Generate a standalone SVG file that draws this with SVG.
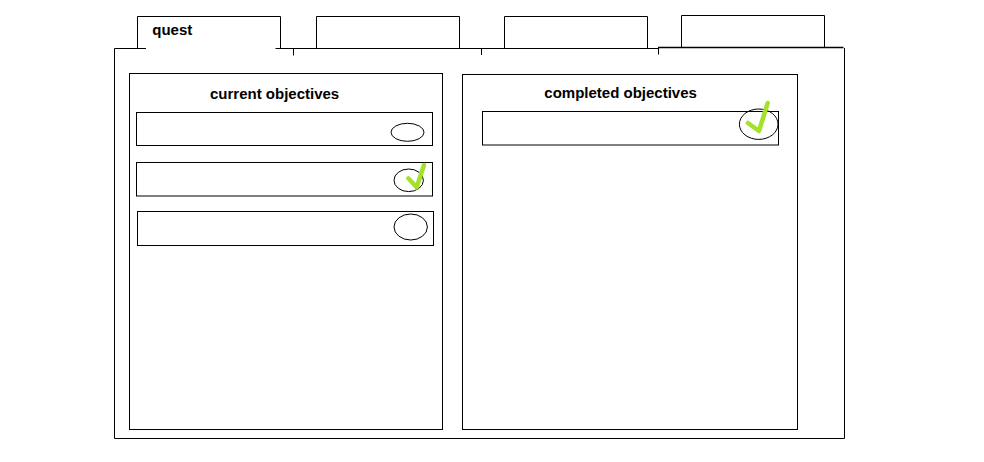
<svg xmlns="http://www.w3.org/2000/svg" width="984" height="462" viewBox="0 0 984 462">
<style>
.ln{fill:none;stroke:#000;stroke-width:1}
.box{fill:none;stroke:#000;stroke-width:1}
.oval{fill:none;stroke:#000;stroke-width:1}
.chk{fill:none;stroke:#a4e22a;stroke-width:4.5;stroke-linecap:round;stroke-linejoin:round}
.t{font-family:"Liberation Sans",Arial,sans-serif;font-weight:bold;font-size:15px;fill:#000}
</style>
<rect width="984" height="462" fill="#fff"/>
<g id="frame">
<path class="ln" d="M114.5,48.5 H146 M275.5,48.5 H658.5 M844.5,48 V438.5 H114.5 V48.5"/>
<path class="ln" d="M658,47.5 H843.5" style="stroke-width:1.6"/>
<path class="ln" d="M293.5,48.5 V55.5 M481.5,48.5 V55 M658.5,47.5 V54.5"/>
</g>
<g id="tab-quest">
<path class="ln" d="M137.5,48.5 V16.5 H280.5 V48.5"/>
<text class="t" x="152.3" y="35">quest</text>
</g>
<g id="tab-2"><path class="ln" d="M316.5,48.5 V16.5 H459.5 V48.5"/></g>
<g id="tab-3"><path class="ln" d="M504.5,48.5 V16.5 H647.5 V48.5"/></g>
<g id="tab-4"><path class="ln" d="M681.5,47.5 V15.5 H824.5 V47.5"/></g>
<g id="current-objectives">
<rect class="box" x="129.5" y="73.5" width="313" height="356"/>
<text class="t" x="210" y="98.5">current objectives</text>
</g>
<g id="objective-1">
<rect class="box" x="136.5" y="112.5" width="296" height="33"/>
<ellipse class="oval" cx="407.5" cy="132.3" rx="16.5" ry="9"/>
</g>
<g id="objective-2">
<rect class="box" x="136.5" y="162.5" width="296" height="33.5"/>
<ellipse class="oval" cx="408.7" cy="180.3" rx="14.7" ry="11.3"/>
<polyline class="chk" points="408.3,178.3 416.7,187.3 424,165"/>
</g>
<g id="objective-3">
<rect class="box" x="137.5" y="211.5" width="296" height="34"/>
<ellipse class="oval" cx="410.7" cy="227" rx="16.7" ry="13"/>
</g>
<g id="completed-objectives">
<rect class="box" x="462.5" y="74.5" width="335" height="355"/>
<text class="t" x="544.3" y="97.5">completed objectives</text>
</g>
<g id="completed-1">
<rect class="box" x="482.5" y="111.5" width="296" height="33.5"/>
<ellipse class="oval" cx="758.7" cy="124.2" rx="19.3" ry="15.2"/>
<polyline class="chk" points="748,123 759,131 767.7,103"/>
</g>
<g id="connectors"></g>
</svg>
